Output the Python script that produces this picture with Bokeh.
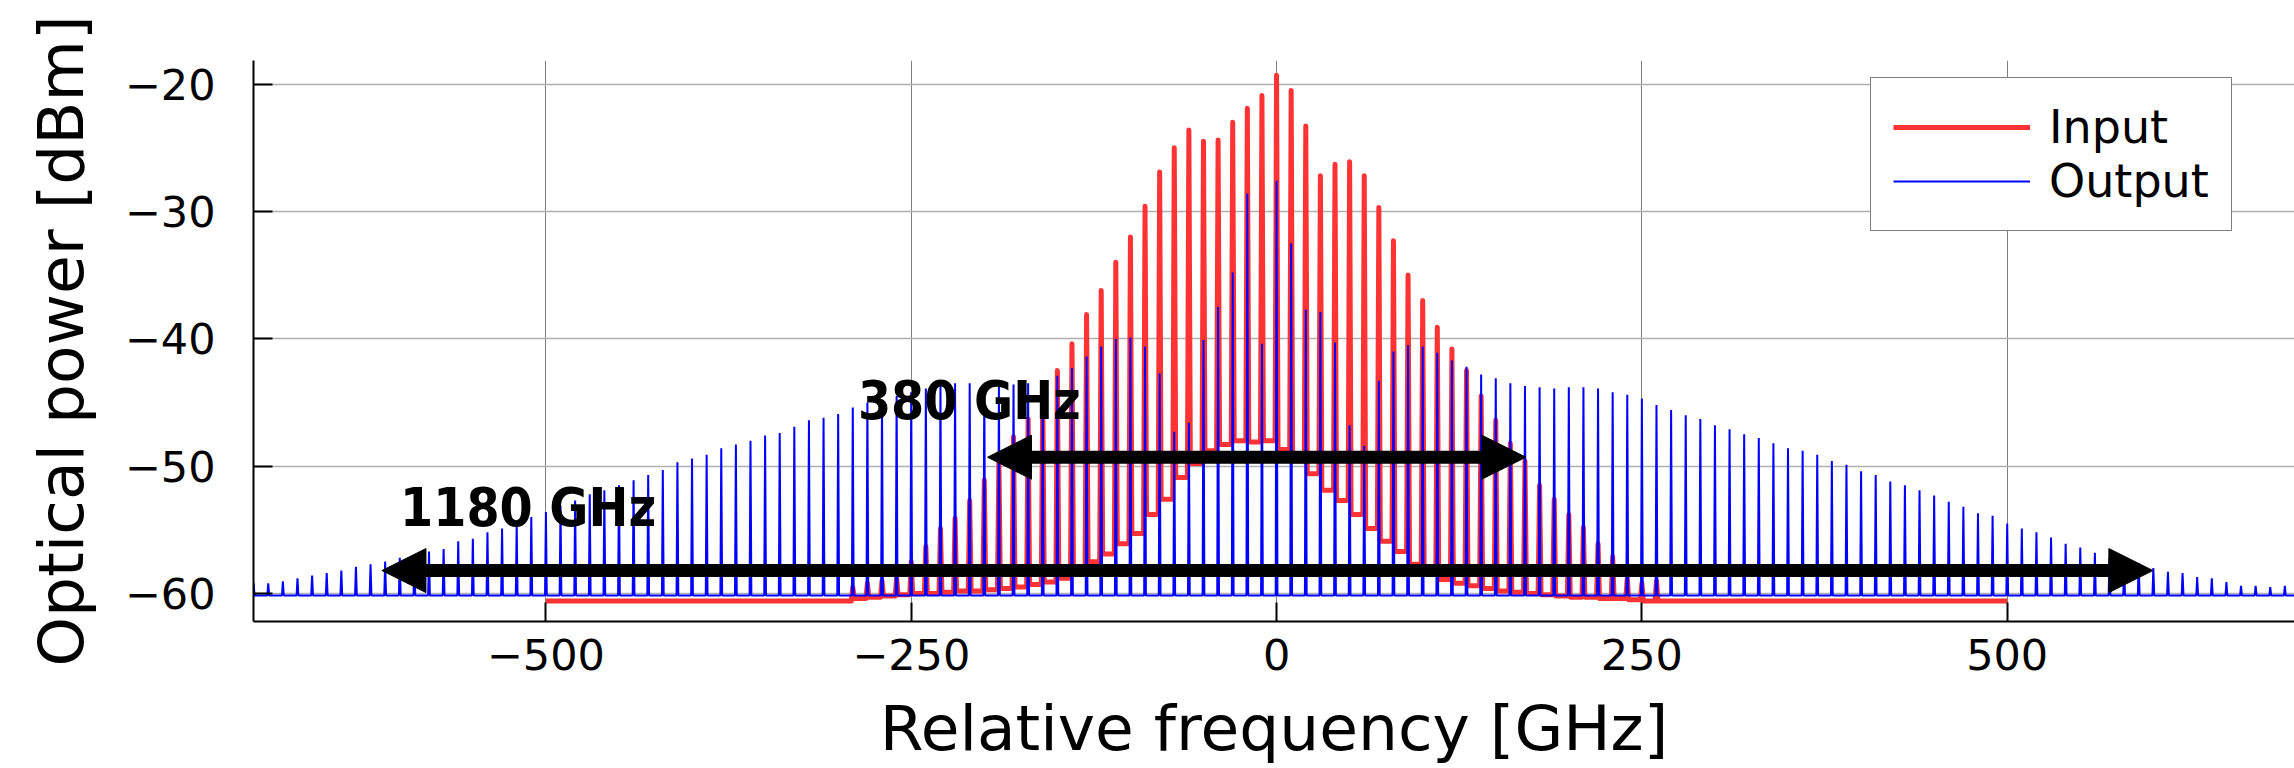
from bokeh.plotting import figure
from bokeh.models import Range1d, FixedTicker, Arrow, NormalHead, Legend, LegendItem
from bokeh.core.properties import value
from bokeh.embed import file_html
from bokeh.resources import INLINE

# ---------------- data ----------------
x_ticks = [-500, -250, 0, 250, 500]
x_tick_labels = ["\u2212500", "\u2212250", "0", "250", "500"]
y_ticks = [-60, -50, -40, -30, -20]
y_tick_labels = ["\u221260", "\u221250", "\u221240", "\u221230", "\u221220"]

# Input comb (10 GHz grid), peak powers [dBm]
red_freq = list(range(-290, 261, 10))
red_peak = [-59.5, -59.2, -59.0, -58.8, -57.5, -56.3, -54.9, -54.1, -52.7, -51.1,
            -49.5, -47.7, -46.3, -44.6, -42.5, -40.4, -38.1, -36.2, -34.0, -32.0,
            -29.6, -26.9, -25.0, -23.6, -24.5, -24.4, -23.0, -21.9, -20.9, -19.3,
            -20.5, -23.3, -27.2, -26.3, -26.1, -27.2, -29.7, -32.3, -35.0, -37.0,
            -39.1, -40.8, -42.5, -44.5, -46.4, -48.2, -49.6, -51.5, -52.6, -53.8,
            -54.8, -56.1, -57.1, -58.8, -59.2, -59.0]
# Input trace level between neighbouring lines (len = lines + 1)
red_valley = [-60.6, -60.4, -60.3, -60.2, -60.1, -60.0, -60.0, -59.9, -59.8, -59.8,
              -59.7, -59.6, -59.5, -59.3, -59.1, -58.8, -58.2, -57.5, -56.9, -56.1,
              -55.3, -53.8, -52.6, -50.9, -49.8, -48.8, -48.3, -48.0, -48.1, -48.0,
              -48.7, -49.6, -50.6, -51.9, -52.7, -53.8, -54.9, -55.9, -56.7, -57.7,
              -58.4, -58.9, -59.2, -59.4, -59.6, -59.8, -59.9, -60.0, -60.1, -60.2,
              -60.3, -60.3, -60.4, -60.4, -60.5, -60.6, -60.6]
red_span = [-500, 500]
red_floor = -60.6

# Output comb (10 GHz grid), peak powers [dBm]
blue_freq = list(range(-700, 691, 10))
blue_peak = [-59.2, -59.2, -59.05, -58.8, -58.6, -58.4, -58.2, -57.9, -57.7, -57.5,
             -57.2, -57.1, -56.7, -56.5, -55.9, -55.7, -55.2, -54.9, -54.6, -54.0,
             -53.6, -53.1, -52.7, -52.2, -51.9, -51.5, -51.1, -50.7, -50.3, -49.7,
             -49.4, -49.1, -48.6, -48.3, -48.0, -47.6, -47.4, -46.9, -46.4, -46.2,
             -45.9, -45.4, -45.0, -44.8, -44.5, -44.2, -43.9, -43.6, -43.5, -43.5,
             -43.7, -43.7, -43.6, -43.5, -43.5, -42.9, -42.3, -41.4, -40.6, -40.0,
             -39.9, -40.6, -42.7, -47.3, -46.6, -40.1, -37.5, -34.8, -28.6, -40.4,
             -27.6, -32.5, -37.7, -37.9, -40.3, -46.8, -48.4, -43.3, -41.0, -40.5,
             -40.6, -41.1, -41.7, -42.2, -42.8, -43.1, -43.5, -43.7, -43.8, -43.9,
             -43.8, -43.8, -43.9, -44.2, -44.4, -44.7, -45.2, -45.6, -46.0, -46.3,
             -46.8, -47.1, -47.5, -47.8, -48.2, -48.6, -48.8, -49.1, -49.6, -49.9,
             -50.4, -50.7, -51.2, -51.5, -51.9, -52.3, -52.8, -53.2, -53.7, -53.9,
             -54.5, -54.9, -55.2, -55.6, -56.1, -56.4, -56.8, -57.2, -57.5, -57.6,
             -58.0, -58.3, -58.4, -58.7, -58.8, -59.1, -59.4, -59.4, -59.5, -59.4]
blue_span = [-720, 720]
blue_floor = -60.15

# Annotations
label_text = ["380 GHz", "1180 GHz"]
label_x = [-286.5, -599.8]
label_y = [-46.4, -54.83]
arrow_x_start = [-197.8, -612.2]
arrow_x_end = [170.6, 599.7]
arrow_y = [-49.3, -58.2]


def build_trace(freqs, peaks, valleys, span, floor, half):
    xs = [span[0]]
    ys = [floor]
    for i, f in enumerate(freqs):
        xs += [f - 5, f - half, f, f + half]
        ys += [valleys[i], valleys[i], peaks[i], valleys[i + 1]]
    xs += [freqs[-1] + 5, span[1]]
    ys += [valleys[-1], floor]
    return xs, ys


rx, ry = build_trace(red_freq, red_peak, red_valley, red_span, red_floor, 1.0)
bx, by = build_trace(blue_freq, blue_peak, [blue_floor] * (len(blue_freq) + 1),
                     blue_span, blue_floor, 0.6)

# ---------------- figure ----------------
p = figure(width=2294, height=768,
           x_range=Range1d(-700.1, 696.6), y_range=Range1d(-62.2, -18.15),
           output_backend="svg", toolbar_location=None,
           min_border_left=253, min_border_right=0,
           min_border_top=60, min_border_bottom=147)
p.outline_line_color = None
p.background_fill_color = "white"

r_red = p.line(rx, ry, line_color="#ff3333", line_width=5, line_join="round")
r_blue = p.line(bx, by, line_color="#0000ff", line_width=2)

p.text(x=label_x, y=label_y, text=label_text, y_offset=-20,
       text_font=value("DejaVu Sans Condensed"), text_font_style="bold",
       text_font_size="53px", text_color="black",
       text_align="left", text_baseline="alphabetic")

for xs, xe, yy in zip(arrow_x_start, arrow_x_end, arrow_y):
    p.add_layout(Arrow(x_start=xs, y_start=yy, x_end=xe, y_end=yy,
                       line_width=13, line_color="black",
                       start=NormalHead(size=44, fill_color="black", line_color="black", line_width=1),
                       end=NormalHead(size=44, fill_color="black", line_color="black", line_width=1)))

# axes
p.xaxis.ticker = FixedTicker(ticks=x_ticks)
p.yaxis.ticker = FixedTicker(ticks=y_ticks)
p.xaxis.major_label_overrides = dict(zip(x_ticks, x_tick_labels))
p.yaxis.major_label_overrides = dict(zip(y_ticks, y_tick_labels))
p.xaxis.axis_label = "Relative frequency [GHz]"
p.yaxis.axis_label = "Optical power [dBm]"
for ax in (p.xaxis[0], p.yaxis[0]):
    ax.major_tick_in = 19
    ax.major_tick_out = 0
    ax.minor_tick_line_color = None
    ax.axis_line_width = 2
    ax.axis_line_color = "black"
    ax.major_tick_line_width = 2
    ax.major_tick_line_color = "black"
    ax.major_label_text_font = "DejaVu Sans"
    ax.major_label_text_font_size = "43px"
    ax.major_label_text_color = "black"
    ax.axis_label_text_font = "DejaVu Sans"
    ax.axis_label_text_font_size = "63px"
    ax.axis_label_text_font_style = "normal"
    ax.axis_label_text_color = "black"
p.xaxis.major_label_standoff = 17
p.xaxis.axis_label_standoff = 19
p.yaxis.major_label_standoff = 38
p.yaxis.axis_label_standoff = 24

p.xgrid.grid_line_color = "#808080"
p.xgrid.grid_line_width = 1
p.ygrid.grid_line_color = "#b0b0b0"
p.ygrid.grid_line_width = 1.5

legend = Legend(items=[LegendItem(label="Input", renderers=[r_red]),
                       LegendItem(label="Output", renderers=[r_blue])],
                location=(1617, 390), orientation="vertical",
                label_text_font="DejaVu Sans", label_text_font_size="46px",
                label_text_color="black",
                glyph_width=137, glyph_height=20, label_standoff=19,
                padding=22, spacing=-4, margin=0,
                border_line_color="black", border_line_width=1.5,
                background_fill_color="white", background_fill_alpha=1.0)
p.add_layout(legend)

open("out.html", "w").write(file_html(p, INLINE))
